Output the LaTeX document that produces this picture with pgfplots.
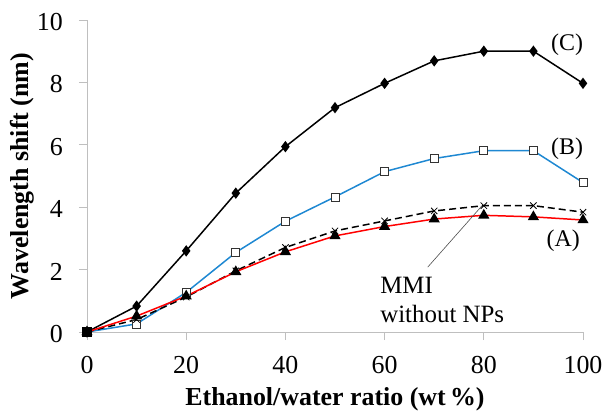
\documentclass[border=0pt]{standalone}
\usepackage{fontspec}
\setmainfont{Liberation Serif}
\usepackage{pgfplots}
\pgfplotsset{compat=1.18}

\begin{document}
\begin{tikzpicture}
\begin{axis}[
    name=ax,
    scale only axis,
    width=496bp, height=312bp,
    xmin=0, xmax=100, ymin=0, ymax=10,
    xtick={0,20,...,100}, ytick={0,2,...,10},
    axis lines=left,
    axis line style={-, draw=black!25, line width=0.9pt},
    tick style={draw=black!25, line width=0.9pt},
    tick align=outside,
    major tick length=8bp,
    /pgf/number format/assume math mode=true,
    xticklabel={\pgfmathprintnumber{\tick}},
    yticklabel={\pgfmathprintnumber{\tick}},
    ticklabel style={font=\fontsize{26}{28}\selectfont, inner sep=0pt},
    xticklabel style={anchor=north, yshift=-16bp},
    yticklabel style={anchor=east, xshift=-16bp, yshift=-2bp},
    xlabel={\textbf{Ethanol/water ratio (wt\,\%)}},
    ylabel={\textbf{Wavelength shift (nm)}},
    label style={font=\fontsize{26}{28}\selectfont, inner sep=0pt},
    xlabel style={at={([yshift=-73bp]axis description cs:0.5,0)}, anchor=base},
    ylabel style={at={([xshift=-65bp]axis description cs:0,0.5)}, anchor=center},
    clip=false,
]
% (C)
\addplot[black, line width=1.5pt, mark=diamond*, mark size=4.5pt]
  coordinates {(0,0) (10,0.83) (20,2.6) (30,4.45) (40,5.94) (50,7.19) (60,7.97) (70,8.69) (80,9.0) (90,9.0) (100,7.97)};
% (B)
\addplot[color={rgb,255:red,30;green,136;blue,210}, line width=1.5pt, mark=square*, mark size=4pt,
  mark options={draw=black!80, fill=white, line width=0.7pt}]
  coordinates {(0,0) (10,0.26) (20,1.27) (30,2.55) (40,3.55) (50,4.33) (60,5.14) (70,5.56) (80,5.81) (90,5.81) (100,4.79)};
% MMI without NPs
\addplot[black, line width=1.5pt, dash pattern=on 7bp off 4bp, mark=x, mark size=4.5pt, mark options={solid, line width=0.8pt}]
  coordinates {(0,0) (10,0.4) (20,1.12) (30,1.96) (40,2.71) (50,3.24) (60,3.56) (70,3.88) (80,4.05) (90,4.05) (100,3.84)};
% (A)
\addplot[red, line width=1.5pt, mark=triangle*, mark size=5pt, mark options={black}]
  coordinates {(0,0) (10,0.51) (20,1.15) (30,1.93) (40,2.57) (50,3.08) (60,3.38) (70,3.62) (80,3.74) (90,3.69) (100,3.59)};
\addplot[only marks, black, mark=square*, mark size=4.5pt] coordinates {(0,0)};

\node[font=\fontsize{24}{26}\selectfont] at (axis cs:96.8,9.2) {(C)};
\node[font=\fontsize{24}{26}\selectfont] at (axis cs:96.8,5.87) {(B)};
\node[font=\fontsize{24}{26}\selectfont] at (axis cs:96,2.92) {(A)};
\draw[black!70, line width=0.6pt] (axis cs:68.7,2.08) -- (axis cs:79.6,4.04);
\node[font=\fontsize{25}{27}\selectfont, anchor=base west, inner sep=0pt] at (axis cs:59.1,1.25) {MMI};
\node[font=\fontsize{25}{27}\selectfont, anchor=base west, inner sep=0pt] at (axis cs:59.1,0.32) {without NPs};
\end{axis}
\pgfresetboundingbox
\path ([shift={(-87bp,20bp)}]ax.north west) rectangle ([shift={(20bp,-80bp)}]ax.south east);
\end{tikzpicture}
\end{document}
